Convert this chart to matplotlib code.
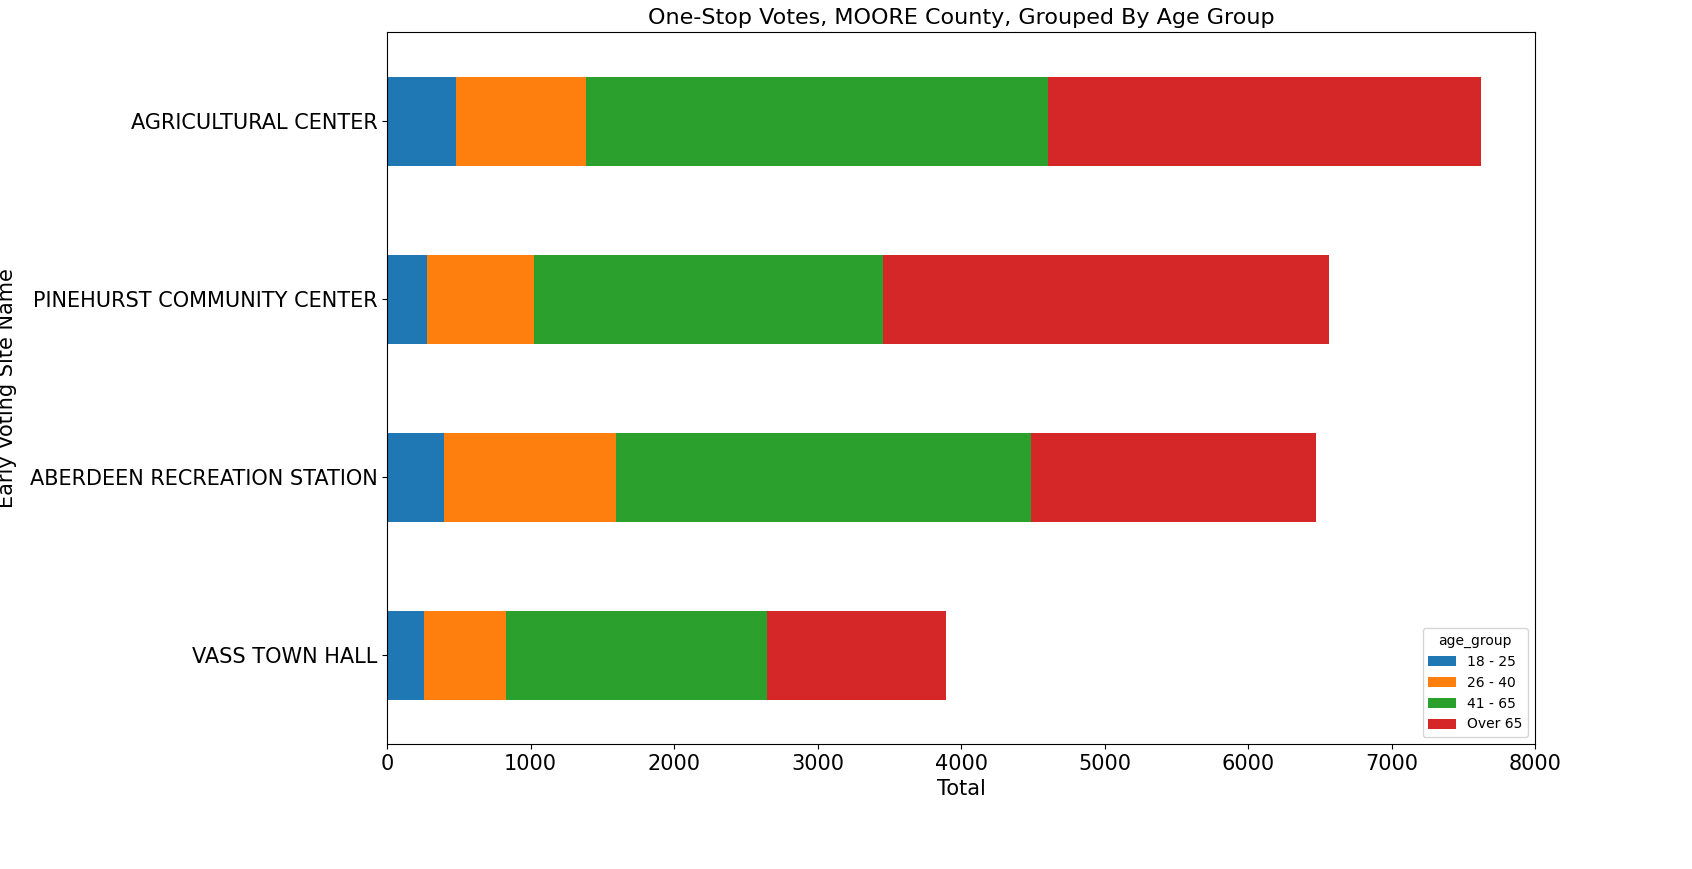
import matplotlib
matplotlib.use("Agg")
import matplotlib.pyplot as plt
import numpy as np

sites = ["VASS TOWN HALL", "ABERDEEN RECREATION STATION",
         "PINEHURST COMMUNITY CENTER", "AGRICULTURAL CENTER"]
age_groups = ["18 - 25", "26 - 40", "41 - 65", "Over 65"]
votes_18_25 = [258, 397, 279, 481]
votes_26_40 = [571, 1199, 745, 906]
votes_41_65 = [1819, 2892, 2432, 3219]
votes_over_65 = [1247, 1986, 3108, 3018]
colors = ["#1f77b4", "#ff7f0e", "#2ca02c", "#d62728"]

fig = plt.figure(figsize=(16.92, 8.69), dpi=100)
ax = fig.add_axes([387 / 1692, 1 - 744 / 869, (1535 - 387) / 1692, (744 - 32) / 869])

y = np.arange(len(sites))
left = np.zeros(len(sites))
for label, vals, c in zip(age_groups, [votes_18_25, votes_26_40, votes_41_65, votes_over_65], colors):
    ax.barh(y, vals, height=0.5, left=left, color=c, label=label)
    left += np.array(vals)

ax.set_yticks(y)
ax.set_yticklabels(sites)
ax.set_xlim(0, 8000)
ax.set_ylim(-0.5, 3.5)
ax.tick_params(labelsize=15)
ax.set_xlabel("Total", fontsize=15)
ax.set_ylabel("Early Voting Site Name", fontsize=15)
ax.yaxis.set_label_coords(-(387 - 17) / (1535 - 387), 0.5)
ax.set_title("One-Stop Votes, MOORE County, Grouped By Age Group", fontsize=16)
ax.legend(title="age_group", loc="lower right")

fig.savefig("out.png")
